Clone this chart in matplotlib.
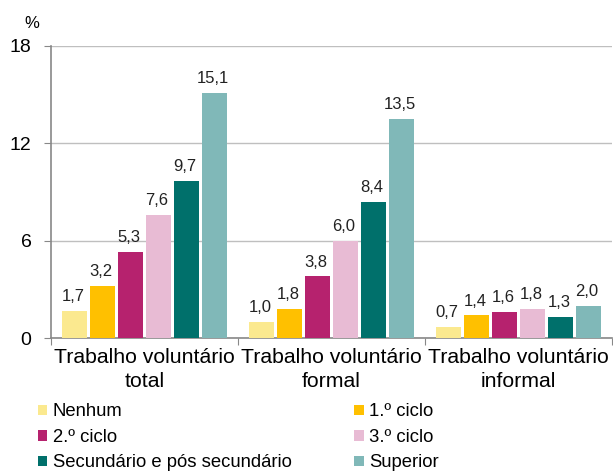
import matplotlib.pyplot as plt
import numpy as np

plt.rcParams['font.family'] = ['Liberation Sans', 'DejaVu Sans']

categories = ['Trabalho voluntário\ntotal', 'Trabalho voluntário\nformal', 'Trabalho voluntário\ninformal']
series = ['Nenhum', '1.º ciclo', '2.º ciclo', '3.º ciclo', 'Secundário e pós secundário', 'Superior']
values = [
    [1.7, 1.0, 0.7],
    [3.2, 1.8, 1.4],
    [5.3, 3.8, 1.6],
    [7.6, 6.0, 1.8],
    [9.7, 8.4, 1.3],
    [15.1, 13.5, 2.0],
]
colors = ['#FBE98F', '#FFC000', '#B6226E', '#E8BBD4', '#00706B', '#80B8B8']

fig = plt.figure(figsize=(6.13, 4.73), dpi=100)
ax = fig.add_axes([0.083, 0.285, 0.915, 0.618])

x = np.arange(len(categories))
slot = 0.15
width = 0.134
handles = []
for i, (name, vals) in enumerate(zip(series, values)):
    pos = x - 0.5 + 0.05 + slot * (i + 0.5)
    bars = ax.bar(pos, vals, width, color=colors[i], label=name, zorder=3)
    handles.append(bars)
    for b, v in zip(bars, vals):
        ax.annotate(f'{v:.1f}'.replace('.', ','), (b.get_x() + b.get_width() / 2, v),
                    xytext=(-1, 5), textcoords='offset points',
                    ha='center', va='bottom', fontsize=12, color='#222222')

ax.set_xlim(-0.5, 2.5)
ax.set_ylim(0, 18)
ax.set_yticks([0, 6, 12, 18])
ax.tick_params(axis='y', labelsize=14, length=5, color='#888888', pad=9)
ax.set_xticks([-0.5, 0.5, 1.5, 2.5])
ax.set_xticklabels([])
ax.set_xticks(x, minor=True)
ax.set_xticklabels(categories, minor=True, fontsize=15.3, linespacing=1.35)
ax.tick_params(axis='x', which='major', length=5, color='#888888')
ax.tick_params(axis='x', which='minor', length=0, pad=7)
ax.grid(axis='y', color='#BFBFBF', linewidth=1, zorder=0)
for s in ['top', 'right']:
    ax.spines[s].set_visible(False)
for s in ['left', 'bottom']:
    ax.spines[s].set_color('#888888')
    ax.spines[s].set_linewidth(1.2)

ax.text(-0.021, 1.05, '%', transform=ax.transAxes, fontsize=12, ha='right', va='bottom')

order = [0, 2, 4, 1, 3, 5]
fig.legend([handles[k] for k in order], [series[k] for k in order],
           loc='upper left', bbox_to_anchor=(0.062, 0.147), ncol=2, frameon=False,
           fontsize=13.3, handlelength=0.5, handleheight=0.5, handletextpad=0.3,
           columnspacing=3.4, labelspacing=0.46, borderpad=0, borderaxespad=0)

fig.savefig('out.png', dpi=100)
